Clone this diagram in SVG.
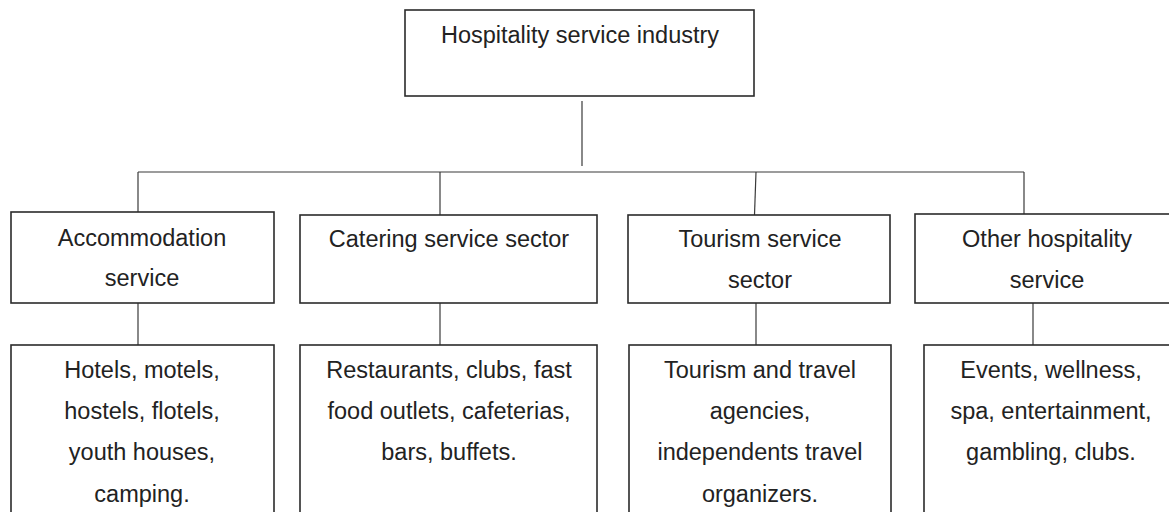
<svg xmlns="http://www.w3.org/2000/svg" width="1169" height="512" viewBox="0 0 1169 512">
  <style>
    .box { fill: #ffffff; stroke: #2b2b2b; stroke-width: 1.6; }
    .wire { fill: none; stroke: #3a3a3a; stroke-width: 1.2; }
    .label { font-family: "Liberation Sans", Arial, sans-serif; font-size: 23.5px; fill: #222222; text-anchor: middle; }
  </style>
  <rect width="1169" height="512" fill="#ffffff"/>

  <!-- connectors -->
  <g id="connectors">
    <line class="wire" x1="582" y1="101" x2="582" y2="166"/>
    <line class="wire" x1="138" y1="172" x2="1024" y2="172"/>
    <line class="wire" x1="138" y1="172" x2="138" y2="212"/>
    <line class="wire" x1="440" y1="172" x2="440" y2="215"/>
    <line class="wire" x1="756" y1="172" x2="754.5" y2="215"/>
    <line class="wire" x1="1024" y1="172" x2="1024" y2="214"/>
    <line class="wire" x1="138" y1="303" x2="138" y2="345"/>
    <line class="wire" x1="440" y1="303" x2="440" y2="345"/>
    <line class="wire" x1="756" y1="303" x2="756" y2="345"/>
    <line class="wire" x1="1033" y1="303" x2="1033" y2="345"/>
  </g>

  <!-- root -->
  <g id="industry">
    <rect class="box" x="405" y="10" width="349" height="86"/>
    <text class="label" x="580" y="43">Hospitality service industry</text>
  </g>

  <!-- sectors -->
  <g id="accommodation">
    <rect class="box" x="11" y="212" width="263" height="91"/>
    <text class="label" x="142" y="246">Accommodation</text>
    <text class="label" x="142" y="286">service</text>
  </g>
  <g id="catering">
    <rect class="box" x="300" y="215" width="297" height="88"/>
    <text class="label" x="449" y="247">Catering service sector</text>
  </g>
  <g id="tourism">
    <rect class="box" x="628" y="215" width="262" height="88"/>
    <text class="label" x="760" y="247">Tourism service</text>
    <text class="label" x="760" y="288">sector</text>
  </g>
  <g id="other">
    <rect class="box" x="915" y="214" width="266" height="89"/>
    <text class="label" x="1047" y="247">Other hospitality</text>
    <text class="label" x="1047" y="288">service</text>
  </g>

  <!-- examples -->
  <g id="accommodation-examples">
    <rect class="box" x="11" y="345" width="263" height="180"/>
    <text class="label" x="142" y="378">Hotels, motels,</text>
    <text class="label" x="142" y="419">hostels, flotels,</text>
    <text class="label" x="142" y="460">youth houses,</text>
    <text class="label" x="142" y="502">camping.</text>
  </g>
  <g id="catering-examples">
    <rect class="box" x="300" y="345" width="297" height="180"/>
    <text class="label" x="449" y="378">Restaurants, clubs, fast</text>
    <text class="label" x="449" y="419">food outlets, cafeterias,</text>
    <text class="label" x="449" y="460">bars, buffets.</text>
  </g>
  <g id="tourism-examples">
    <rect class="box" x="629" y="345" width="262" height="180"/>
    <text class="label" x="760" y="378">Tourism and travel</text>
    <text class="label" x="760" y="419">agencies,</text>
    <text class="label" x="760" y="460">independents travel</text>
    <text class="label" x="760" y="502">organizers.</text>
  </g>
  <g id="other-examples">
    <rect class="box" x="924" y="345" width="256" height="180"/>
    <text class="label" x="1051" y="378">Events, wellness,</text>
    <text class="label" x="1051" y="419">spa, entertainment,</text>
    <text class="label" x="1051" y="460">gambling, clubs.</text>
  </g>
</svg>
